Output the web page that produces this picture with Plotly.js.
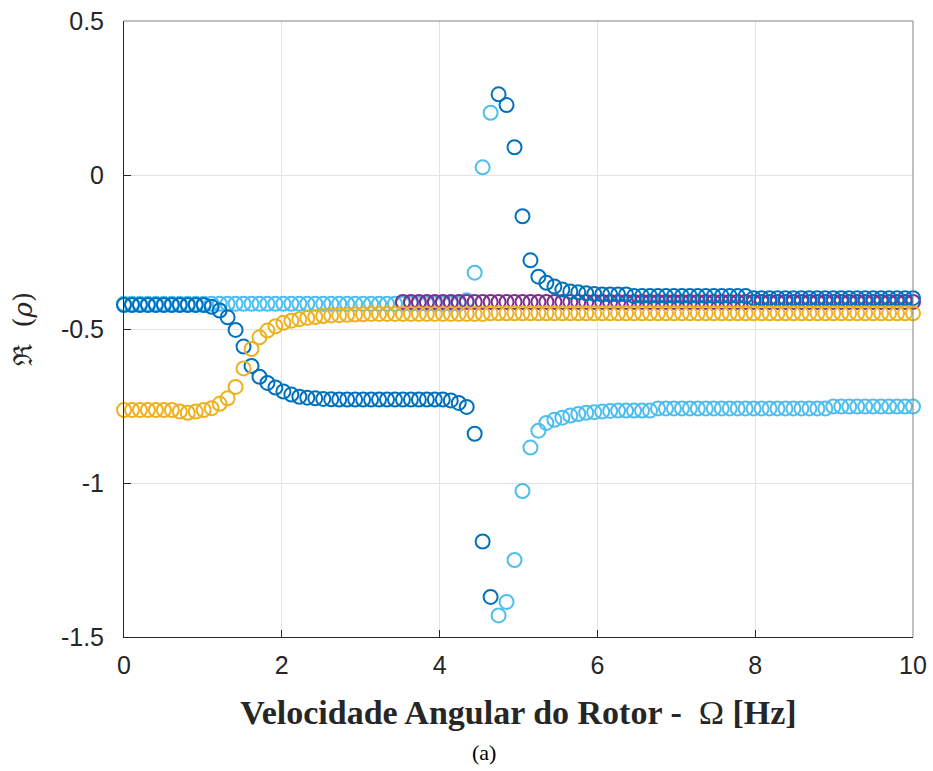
<!DOCTYPE html>
<html>
<head>
<meta charset="utf-8">
<script src="https://cdn.plot.ly/plotly-3.0.1.min.js"></script>
<style>html,body{margin:0;padding:0;background:#fff;}#chart{width:933px;height:771px;}</style>
</head>
<body>
<div id="chart"></div>
<script>
// Sampling grid: 100 evenly spaced rotor speeds from 0 to 10 Hz
var nPts = 100;
var omega = [];
for (var i = 0; i < nPts; i++) { omega.push(i * 10 / (nPts - 1)); }

var tickVals = [0, 2, 4, 6, 8, 10];
var yTickVals = [0.5, 0, -0.5, -1, -1.5];
var yTickText = ['0.5', '0', '-0.5', '-1', '-1.5'];

function rep(v, n) { var a = []; for (var i = 0; i < n; i++) a.push(v); return a; }

// Series 1 (blue)
var realBlue = [].concat(
  rep(-0.422, 11),
  [-0.428, -0.440, -0.462, -0.503, -0.557, -0.620, -0.655, -0.675, -0.690, -0.703,
   -0.713, -0.720, -0.723, -0.725, -0.727, -0.728],
  rep(-0.729, 14),
  [-0.732, -0.740, -0.753, -0.840, -1.190, -1.370, 0.262, 0.227, 0.090, -0.134,
   -0.277, -0.330, -0.350, -0.362, -0.372, -0.378, -0.381, -0.384, -0.386],
  rep(-0.388, 4),
  rep(-0.393, 15),
  rep(-0.400, 21)
);

// Series 2 (yellow)
var realYellow = [].concat(
  rep(-0.763, 7),
  [-0.768, -0.772, -0.768, -0.763, -0.757, -0.743, -0.725, -0.688, -0.628, -0.565,
   -0.527, -0.505, -0.491, -0.480, -0.473, -0.468, -0.464, -0.461, -0.458, -0.456,
   -0.455, -0.454, -0.453, -0.452],
  rep(-0.451, 15),
  rep(-0.449, 54)
);

// Series 3 (purple)
var realPurple = [].concat(
  rep(null, 35),
  rep(-0.412, 65)
);

// Series 4 (light blue)
var realLightBlue = [].concat(
  rep(-0.418, 43),
  [-0.407, -0.317, 0.025, 0.202, -1.430, -1.386, -1.250, -1.026, -0.885, -0.830,
   -0.805, -0.795, -0.788, -0.781, -0.776, -0.772, -0.770, -0.768, -0.766],
  rep(-0.765, 5),
  rep(-0.758, 22),
  rep(-0.752, 11)
);

function tr(y, color) {
  return {
    x: omega, y: y, type: 'scatter', mode: 'markers', cliponaxis: false,
    marker: { symbol: 'circle-open', size: 14, color: color, line: { width: 2, color: color } },
    showlegend: false, hoverinfo: 'x+y'
  };
}

var data = [
  tr(realLightBlue, '#4DBEEE'),
  tr(realPurple, '#7E2F8E'),
  tr(realBlue, '#0072BD'),
  tr(realYellow, '#EDB120')
];

var L = 124, R = 913, T = 21, B = 637;
var layout = {
  width: 933, height: 771,
  margin: { l: L, r: 933 - R, t: T, b: 771 - B, pad: 0 },
  paper_bgcolor: '#ffffff', plot_bgcolor: '#ffffff',
  font: { family: 'Liberation Sans, Arial, sans-serif', color: '#262626' },
  xaxis: {
    range: [0, 10], tickvals: tickVals, ticktext: tickVals.map(String),
    ticks: 'inside', ticklen: 7, tickcolor: '#262626', tickwidth: 1,
    showline: true, linecolor: '#262626', linewidth: 1, mirror: false,
    showgrid: true, gridcolor: '#e3e3e3', gridwidth: 1, zeroline: false,
    tickfont: { size: 25, color: '#262626', family: 'Liberation Sans, Arial, sans-serif' },
    ticklabelstandoff: 6,
    title: { text: '<b>Velocidade Angular do Rotor -\u00a0\u00a0</b>\u03a9<b> [Hz]</b>', standoff: 22,
             font: { family: 'Liberation Serif, Times New Roman, serif', size: 34, color: '#262626' } }
  },
  yaxis: {
    range: [-1.5, 0.5], tickvals: yTickVals, ticktext: yTickText,
    ticks: 'inside', ticklen: 7, tickcolor: '#262626', tickwidth: 1,
    showline: true, linecolor: '#262626', linewidth: 1, mirror: false,
    showgrid: true, gridcolor: '#e3e3e3', gridwidth: 1, zeroline: false,
    tickfont: { size: 25, color: '#262626', family: 'Liberation Sans, Arial, sans-serif' },
    ticklabelstandoff: 14,
    title: { text: '\u211c\u00a0 (<i>\u03c1</i>)', standoff: 20,
             font: { family: 'DejaVu Serif, serif', size: 26, color: '#262626' } }
  },
  shapes: [
    { type: 'line', xref: 'paper', yref: 'paper', x0: 0, x1: 1, y0: 1, y1: 1, line: { color: '#808080', width: 1 } },
    { type: 'line', xref: 'paper', yref: 'paper', x0: 1, x1: 1, y0: 0, y1: 1, line: { color: '#808080', width: 1 } }
  ],
  annotations: [
    { text: '(a)', xref: 'paper', yref: 'paper', x: (484 - L) / (R - L), y: (B - 752) / (B - T),
      xanchor: 'center', yanchor: 'middle', showarrow: false,
      font: { family: 'Liberation Serif, Times New Roman, serif', size: 22, color: '#000000' } }
  ]
};

Plotly.newPlot('chart', data, layout, { displayModeBar: false, staticPlot: true });
</script>
</body>
</html>
